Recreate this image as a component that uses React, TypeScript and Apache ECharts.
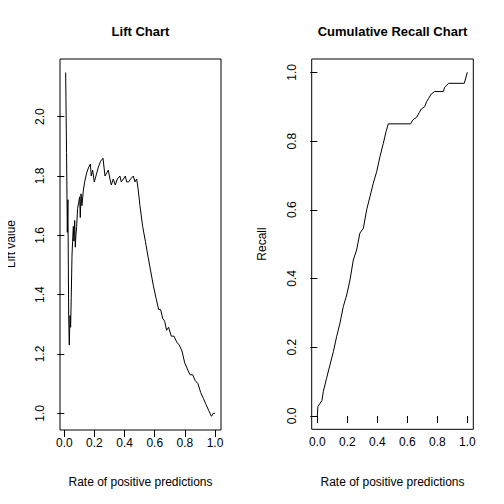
import React, { useEffect, useRef } from "react";
import * as echarts from "echarts";

// Lift chart: rate of positive predictions vs lift value
const liftX = [0.009, 0.015, 0.02, 0.024, 0.029, 0.033, 0.038, 0.042, 0.046, 0.051, 0.055, 0.06, 0.064, 0.069, 0.073, 0.077, 0.082, 0.088, 0.095, 0.102, 0.106, 0.111, 0.117, 0.126, 0.135, 0.148, 0.162, 0.173, 0.179, 0.188, 0.199, 0.21, 0.226, 0.241, 0.257, 0.27, 0.281, 0.292, 0.303, 0.312, 0.325, 0.338, 0.352, 0.369, 0.378, 0.392, 0.405, 0.414, 0.427, 0.44, 0.458, 0.469, 0.48, 0.489, 0.502, 0.52, 0.538, 0.555, 0.573, 0.591, 0.608, 0.626, 0.639, 0.653, 0.666, 0.679, 0.692, 0.71, 0.728, 0.746, 0.763, 0.781, 0.799, 0.816, 0.834, 0.852, 0.869, 0.887, 0.905, 0.923, 0.94, 0.958, 0.976, 0.989, 1.0];
const liftY = [2.149, 1.88, 1.61, 1.72, 1.33, 1.23, 1.33, 1.29, 1.39, 1.53, 1.58, 1.63, 1.58, 1.65, 1.56, 1.6, 1.63, 1.69, 1.71, 1.73, 1.66, 1.74, 1.7, 1.75, 1.78, 1.81, 1.83, 1.84, 1.8, 1.82, 1.78, 1.8, 1.83, 1.85, 1.86, 1.8, 1.81, 1.82, 1.79, 1.77, 1.79, 1.77, 1.79, 1.8, 1.78, 1.79, 1.8, 1.78, 1.78, 1.79, 1.8, 1.78, 1.79, 1.76, 1.7, 1.63, 1.58, 1.53, 1.48, 1.43, 1.39, 1.35, 1.35, 1.32, 1.31, 1.28, 1.29, 1.26, 1.26, 1.24, 1.23, 1.21, 1.17, 1.15, 1.13, 1.13, 1.11, 1.1, 1.07, 1.05, 1.03, 1.01, 0.99, 1.0, 1.0];

// Cumulative recall chart
const recallX = [0, 0.004, 0.018, 0.031, 0.04, 0.062, 0.084, 0.107, 0.129, 0.151, 0.173, 0.196, 0.218, 0.24, 0.262, 0.284, 0.307, 0.329, 0.351, 0.373, 0.396, 0.418, 0.44, 0.458, 0.473, 0.622, 0.636, 0.662, 0.68, 0.693, 0.716, 0.729, 0.742, 0.76, 0.782, 0.84, 0.849, 0.876, 0.98, 1.0];
const recallY = [0, 0.027, 0.037, 0.045, 0.071, 0.11, 0.148, 0.187, 0.231, 0.27, 0.318, 0.352, 0.396, 0.454, 0.483, 0.532, 0.546, 0.6, 0.638, 0.677, 0.711, 0.755, 0.793, 0.827, 0.85, 0.85, 0.861, 0.869, 0.883, 0.893, 0.9, 0.915, 0.924, 0.937, 0.944, 0.944, 0.956, 0.968, 0.968, 1.0];

const font = "Liberation Sans, Arial, sans-serif";

const hiddenAxis = (gridIndex: number) => ({
  type: "value",
  gridIndex,
  show: false,
  min: 0,
  max: 1,
});

const tickAxis = (gridIndex: number, min: number, max: number, offset: number, vertical: boolean) => ({
  type: "value",
  gridIndex,
  min,
  max,
  interval: 0.2,
  offset,
  splitLine: { show: false },
  axisLine: { show: false },
  axisTick: { show: true, length: 7, lineStyle: { color: "#000" } },
  axisLabel: {
    color: "#000",
    fontSize: 12,
    fontFamily: font,
    margin: vertical ? 14 : 7,
    rotate: vertical ? 90 : 0,
    formatter: (v: number) => v.toFixed(1),
  },
});

export default function App() {
  const ref = useRef<HTMLDivElement>(null);

  useEffect(() => {
    if (!ref.current) return;
    const chart = echarts.init(ref.current, null, { renderer: "svg" });
    const text = (x: number, y: number, t: string, opts: any = {}) => ({
      type: "text",
      x,
      y,
      rotation: opts.rotation || 0,
      style: {
        text: t,
        fill: "#000",
        font: `${opts.bold ? "bold " : ""}${opts.size || 12}px ${font}`,
        textAlign: "center",
        textVerticalAlign: "middle",
      },
    });
    chart.setOption({
      animation: false,
      backgroundColor: "#fff",
      grid: [
        { left: 60, top: 59, width: 161, height: 371, show: true, borderColor: "#000", borderWidth: 1, backgroundColor: "transparent" },
        { left: 64.3, top: 116.7, width: 150.7, height: 296.6 },
        { left: 311.7, top: 59, width: 161.6, height: 370.3, show: true, borderColor: "#000", borderWidth: 1, backgroundColor: "transparent" },
        { left: 317.3, top: 72.3, width: 150, height: 343.7 },
      ],
      xAxis: [
        hiddenAxis(0),
        tickAxis(1, 0, 1, 16.7, false),
        hiddenAxis(2),
        tickAxis(3, 0, 1, 13.3, false),
      ],
      yAxis: [
        hiddenAxis(0),
        tickAxis(1, 1, 2, 4.3, true),
        hiddenAxis(2),
        tickAxis(3, 0, 1, 5.6, true),
      ],
      series: [
        {
          type: "line",
          xAxisIndex: 1,
          yAxisIndex: 1,
          clip: false,
          showSymbol: false,
          lineStyle: { color: "#000", width: 1 },
          data: liftX.map((x, i) => [x, liftY[i]]),
        },
        {
          type: "line",
          xAxisIndex: 3,
          yAxisIndex: 3,
          clip: false,
          showSymbol: false,
          lineStyle: { color: "#000", width: 1 },
          data: recallX.map((x, i) => [x, recallY[i]]),
        },
      ],
      graphic: [
        text(140.5, 31, "Lift Chart", { bold: true, size: 13 }),
        text(392.5, 31, "Cumulative Recall Chart", { bold: true, size: 13 }),
        text(140.5, 482, "Rate of positive predictions"),
        text(392.5, 482, "Rate of positive predictions"),
        text(11, 244, "Lift value", { rotation: Math.PI / 2 }),
        text(262, 244, "Recall", { rotation: Math.PI / 2 }),
      ],
    });
    return () => chart.dispose();
  }, []);

  return <div ref={ref} style={{ width: 504, height: 504, margin: -8 }} />;
}
